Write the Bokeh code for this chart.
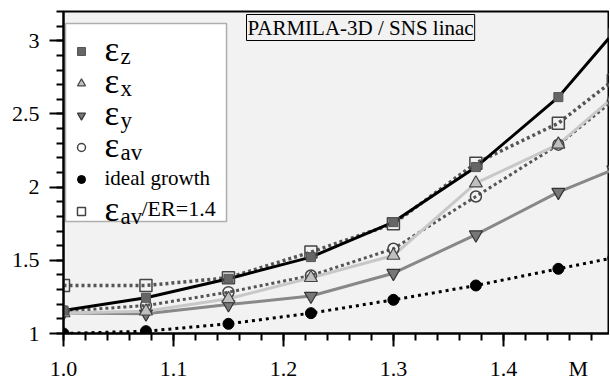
from bokeh.plotting import figure
from bokeh.models import Range1d, FixedTicker, Legend, LegendItem, Label, LinearAxis, BoxAnnotation
from bokeh.embed import file_html
from bokeh.resources import INLINE

# ---- data ----
M = [1.0, 1.075, 1.15, 1.225, 1.3, 1.375, 1.45, 1.5]
eps_z = [1.157, 1.244, 1.374, 1.522, 1.761, 2.137, 2.615, 3.053]
eps_x = [1.140, 1.152, 1.237, 1.381, 1.533, 2.027, 2.292, 2.615]
eps_y = [1.140, 1.135, 1.198, 1.256, 1.412, 1.675, 1.966, 2.119]
eps_av = [1.152, 1.191, 1.282, 1.396, 1.579, 1.936, 2.290, 2.593]
ideal = [1.000, 1.016, 1.066, 1.139, 1.230, 1.328, 1.442, 1.517]
eps_av_er = [1.328, 1.328, 1.381, 1.556, 1.750, 2.164, 2.437, 2.729]

x_ticks = [1.0, 1.1, 1.2, 1.3, 1.4]
x_tick_labels = ["1.0", "1.1", "1.2", "1.3", "1.4"]
x_name = "M"
x_name_pos = 1.468
y_ticks = [1.0, 1.5, 2.0, 2.5, 3.0]
y_tick_labels = ["1", "1.5", "2", "2.5", "3"]
x_minor = [round(1.0 + 0.02 * i, 2) for i in range(25)]
y_minor = [round(1.0 + 0.1 * i, 1) for i in range(23)]

title_text = "PARMILA-3D / SNS linac"
legend_eps = ["ε", "ε", "ε", "ε", "", "ε"]
legend_sub = ["z", "x", "y", "av", "", "av"]
legend_tail = ["", "", "", "", "ideal growth", "/ER=1.4"]

FONT = "Liberation Serif"

p = figure(width=609, height=383, output_backend="svg", toolbar_location=None,
           x_range=Range1d(1.0, 1.4965), y_range=Range1d(1.0, 3.2),
           min_border_left=63, min_border_right=0, min_border_top=11, min_border_bottom=50,
           background_fill_color="#f2f2f2", border_fill_color="white")
p.grid.visible = False
p.outline_line_color = "black"
p.outline_line_width = 2


def style_ticks(ax, tout):
    ax.major_tick_out = tout
    ax.major_tick_in = 0
    ax.minor_tick_out = 7
    ax.minor_tick_in = 0
    ax.axis_line_width = 2
    ax.major_tick_line_width = 2
    ax.minor_tick_line_width = 2


def style_labels(ax, standoff):
    ax.major_label_text_font = FONT
    ax.major_label_text_font_size = "22px"
    ax.major_label_text_color = "black"
    ax.major_label_standoff = standoff


# y axis
ya = p.yaxis[0]
ya.ticker = FixedTicker(ticks=y_ticks, minor_ticks=y_minor)
ya.major_label_overrides = dict(zip(y_ticks, y_tick_labels))
style_ticks(ya, 14)
style_labels(ya, 10)

# x axis: tick marks only
xa = p.xaxis[0]
xa.ticker = FixedTicker(ticks=x_ticks, minor_ticks=x_minor)
xa.major_label_overrides = {t: "" for t in x_ticks}
xa.major_label_text_font_size = "0px"
xa.major_label_standoff = 0
style_ticks(xa, 13)

# x axis: labels row (tick labels plus the axis name "M")
xl = LinearAxis(ticker=FixedTicker(ticks=x_ticks + [x_name_pos], minor_ticks=[]),
                major_label_overrides=dict(zip(x_ticks + [x_name_pos], x_tick_labels + [x_name])),
                axis_line_color=None, major_tick_line_color=None, minor_tick_line_color=None,
                major_tick_out=0, major_tick_in=0, minor_tick_out=0, minor_tick_in=0)
style_labels(xl, 9)
p.add_layout(xl, "below")

frame_bottom = 333
frame_left = 63

# ---- lines ----
p.line(M, ideal, line_color="black", line_width=3, line_dash="3 4")
p.line(M, eps_y, line_color="#888888", line_width=3)
p.line(M, eps_av_er, line_color="#555555", line_width=3.5, line_dash="3 3")
p.line(M, eps_av, line_color="#555555", line_width=3, line_dash="3 3")
p.line(M, eps_x, line_color="#c8c8c8", line_width=3)
p.line(M, eps_z, line_color="black", line_width=3)

# ---- markers ----
r_ideal = p.scatter(M, ideal, marker="circle", size=11, fill_color="black", line_color="black")
r_y = p.scatter(M, eps_y, marker="inverted_triangle", size=13, fill_color="#777777", line_color="#333333", line_width=1.2)
r_er = p.scatter(M, eps_av_er, marker="square", size=12, fill_color=None, line_color="#444444", line_width=1.5)
r_av = p.scatter(M, eps_av, marker="circle", size=11, fill_color=None, line_color="#444444", line_width=1.5)
r_x = p.scatter(M, eps_x, marker="triangle", size=13, fill_color="#c0c0c0", line_color="#444444", line_width=1.2)
r_z = p.scatter(M, eps_z, marker="square", size=9, fill_color="#666666", line_color="#555555")

# legend box (white, drawn before the legend entries)
p.add_layout(BoxAnnotation(left=65 - frame_left, right=226 - frame_left,
                           top=frame_bottom - 23, bottom=frame_bottom - 221,
                           left_units="screen", right_units="screen", top_units="screen", bottom_units="screen",
                           fill_color="white", fill_alpha=1.0, line_color="black", line_width=1.5,
                           level="annotation"))

renderers = [r_z, r_x, r_y, r_av, r_ideal, r_er]
legend = Legend(items=[LegendItem(label="", renderers=[r]) for r in renderers],
                location=(2, 112), orientation="vertical", margin=0,
                padding=9, spacing=12, glyph_height=20, glyph_width=32,
                label_height=20, label_width=106, label_standoff=5,
                label_text_font_size="10px",
                border_line_color=None, background_fill_alpha=0.0)
p.add_layout(legend)

# legend texts (screen units, relative to frame)
row_centers = [42, 74, 106, 138, 170, 202]


def add_text(px, py, text, size):
    p.add_layout(Label(x=px - frame_left, y=frame_bottom - py, x_units="screen", y_units="screen",
                       text=text, text_font=FONT, text_font_size=size, text_baseline="alphabetic",
                       text_color="black", level="overlay"))


for c, e, s, t in zip(row_centers, legend_eps, legend_sub, legend_tail):
    if e:
        add_text(104, c + 7, e, "35px")
        add_text(120, c + 14, s, "23px")
        if t:
            add_text(141, c + 6, t, "22px")
    else:
        add_text(104, c + 7, t, "21px")

# title box
p.add_layout(Label(x=246 - frame_left, y=frame_bottom - 27, x_units="screen", y_units="screen",
                   text=title_text, text_font=FONT, text_font_size="21px", text_baseline="alphabetic",
                   text_color="black", border_line_color="black", border_line_width=1,
                   background_fill_color="#f2f2f2", padding=1, level="overlay"))

open("out.html", "w").write(file_html(p, INLINE))
